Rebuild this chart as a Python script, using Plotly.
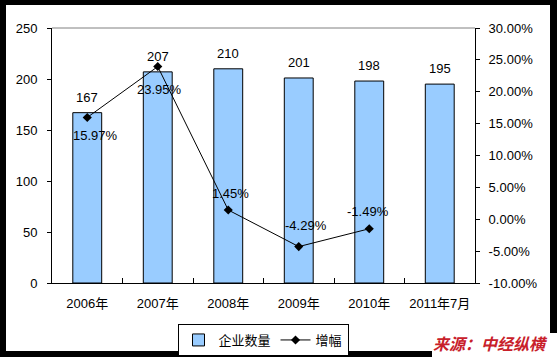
import plotly.graph_objects as go

categories = ["2006年", "2007年", "2008年", "2009年", "2010年", "2011年7月"]
companies = [167, 207, 210, 201, 198, 195]
growth = [15.97, 23.95, 1.45, -4.29, -1.49, None]
growth_labels = ["15.97%", "23.95%", "1.45%", "-4.29%", "-1.49%", None]
left_ticks = [0, 50, 100, 150, 200, 250]
right_ticks = [-10, -5, 0, 5, 10, 15, 20, 25, 30]

FONT = "Liberation Sans, Arial, Noto Sans CJK SC, sans-serif"
W, H = 557, 357
L, R, T, B = 52, 82, 28, 74
PW, PH = W - L - R, H - T - B

def px_x(px):
    return (px - L) / PW

def px_y(py):
    return (H - B - py) / PH

fig = go.Figure()
fig.add_trace(go.Bar(
    x=categories, y=companies, name="企业数量", width=0.41,
    marker=dict(color="#99CCFF", line=dict(color="black", width=1)),
    yaxis="y",
))
fig.add_trace(go.Scatter(
    x=categories, y=growth, name="增幅", mode="lines+markers",
    line=dict(color="black", width=1),
    marker=dict(symbol="diamond", size=7, color="black"),
    yaxis="y2",
))

annotations = []
for c, v in zip(categories, companies):
    annotations.append(dict(x=c, y=v, xref="x", yref="y", text=str(v),
                            showarrow=False, yanchor="bottom", yshift=6,
                            font=dict(size=13, color="black", family=FONT)))
label_shift = [(8, -18), (2, -23), (2, 17), (7, 21), (-1, 17), (0, 0)]
for c, v, t, (dx, dy) in zip(categories, growth, growth_labels, label_shift):
    if v is None:
        continue
    annotations.append(dict(x=c, y=v, xref="x", yref="y2", text=t,
                            showarrow=False, yanchor="middle", xshift=dx, yshift=dy,
                            font=dict(size=13, color="black", family=FONT)))
annotations.append(dict(x=px_x(490), y=px_y(343), xref="paper", yref="paper",
                        text="<b><i>来源：中经纵横</i></b>", showarrow=False,
                        xanchor="center", yanchor="middle",
                        font=dict(size=16, color="#C8202A", family="Noto Sans CJK SC")))

shapes = [
    dict(type="rect", xref="paper", yref="paper", layer="below",
         x0=px_x(6), x1=px_x(550), y0=px_y(351), y1=px_y(5),
         fillcolor="white", line=dict(width=0)),
    dict(type="rect", xref="paper", yref="paper", layer="below",
         x0=px_x(432), x1=px_x(558), y0=px_y(358), y1=px_y(333),
         fillcolor="white", line=dict(width=0)),
    dict(type="line", xref="paper", yref="paper", x0=0, x1=1, y0=1, y1=1,
         line=dict(color="#808080", width=1)),
]

fig.update_layout(
    width=W, height=H,
    margin=dict(l=L, r=R, t=T, b=B, autoexpand=False),
    paper_bgcolor="black", plot_bgcolor="white",
    font=dict(family=FONT, size=13, color="black"),
    showlegend=True,
    legend=dict(orientation="h", x=px_x(263), xanchor="center",
                y=px_y(324), yanchor="top", bgcolor="white",
                bordercolor="black", borderwidth=1,
                font=dict(size=13, family=FONT), itemwidth=30,
                tracegroupgap=0),
    xaxis=dict(type="category", showline=True, linecolor="black", linewidth=1,
               ticks="inside", tickson="boundaries", ticklen=5, tickcolor="black",
               showgrid=False, ticklabelstandoff=8,
               tickfont=dict(size=13, family=FONT)),
    yaxis=dict(range=[0, 250], tickvals=left_ticks, showline=True, linecolor="black",
               linewidth=1, ticks="outside", ticklen=4, tickcolor="black",
               showgrid=False, zeroline=False, ticklabelstandoff=7),
    yaxis2=dict(range=[-10, 30], tickvals=right_ticks,
                ticktext=[f"{v:.2f}%" for v in right_ticks],
                overlaying="y", side="right", showline=True, linecolor="black",
                linewidth=1, ticks="outside", ticklen=4, tickcolor="black",
                showgrid=False, zeroline=False, ticklabelstandoff=6),
    annotations=annotations,
    shapes=shapes,
)

fig.write_html("out.html", config={"displayModeBar": False},
               post_script="document.body.style.margin='0';document.body.style.padding='0';document.body.style.overflow='hidden';")
